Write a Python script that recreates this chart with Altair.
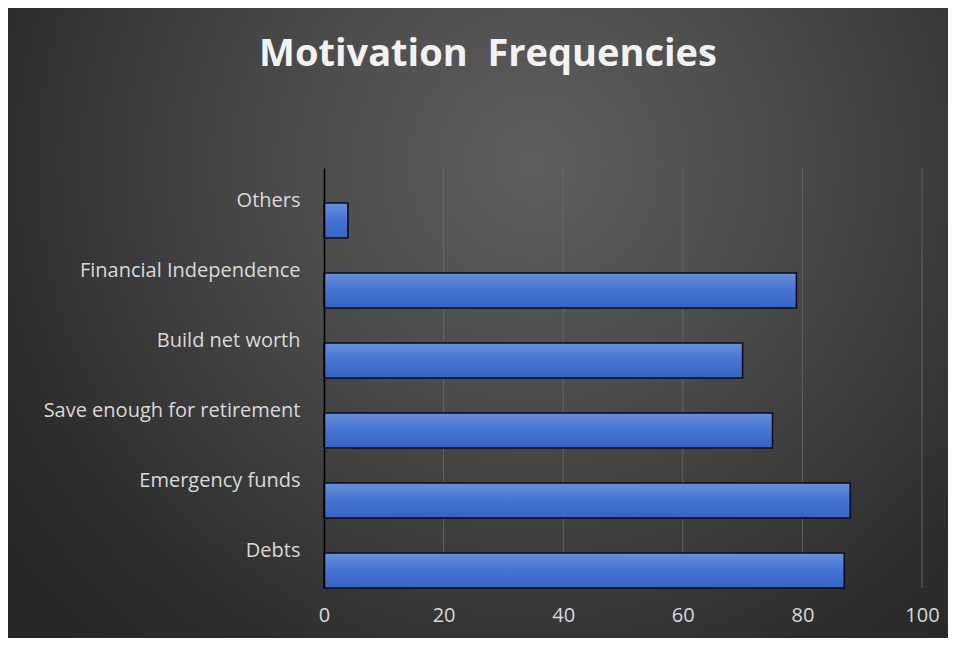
import altair as alt
import pandas as pd

categories = ["Others", "Financial Independence", "Build net worth",
              "Save enough for retirement", "Emergency funds", "Debts"]
counts = [4, 79, 70, 75, 88, 87]
grid_ticks = [20, 40, 60, 80, 100]
x_ticks = [0, 20, 40, 60, 80, 100]

bars_df = pd.DataFrame({"category": categories, "count": counts})
grid_df = pd.DataFrame({"tick": grid_ticks})

PLOT_W, PLOT_H = 598, 420
PAD = {"left": 316, "top": 160, "right": 26, "bottom": 50}

bg = alt.Chart(alt.Data(values=[{"k": 1}])).mark_rect(
    fill=alt.Gradient(
        gradient="radial",
        x1=0.56, y1=0.33, r1=0.0,
        x2=0.56, y2=0.33, r2=0.72,
        stops=[
            alt.GradientStop(offset=0.0, color="#5e5e5e"),
            alt.GradientStop(offset=0.35, color="#4c4c4c"),
            alt.GradientStop(offset=0.8, color="#2e2e2e"),
            alt.GradientStop(offset=1.0, color="#262626"),
        ],
    ),
    strokeWidth=0,
).encode(
    x=alt.value(-PAD["left"]),
    x2=alt.value(PLOT_W + PAD["right"]),
    y=alt.value(-PAD["top"]),
    y2=alt.value(PLOT_H + PAD["bottom"]),
)

x_scale = alt.Scale(domain=[0, 100], nice=False, zero=True)

grid = alt.Chart(grid_df).mark_rule(color="#6b6b6b", strokeWidth=1, opacity=0.8).encode(
    x=alt.X("tick:Q", scale=x_scale, title=None),
)

bars = alt.Chart(bars_df).mark_bar(
    height={"band": 0.5},
    yOffset=17.5,
    stroke="#0b0b22",
    strokeWidth=1.6,
    fill=alt.Gradient(
        gradient="linear",
        x1=0, x2=0, y1=0, y2=1,
        stops=[
            alt.GradientStop(offset=0.0, color="#6a8fd6"),
            alt.GradientStop(offset=0.45, color="#4876d6"),
            alt.GradientStop(offset=1.0, color="#3564c2"),
        ],
    ),
).encode(
    x=alt.X(
        "count:Q",
        scale=x_scale,
        title=None,
        axis=alt.Axis(values=x_ticks, grid=False, domain=False, ticks=False,
                      labelPadding=17, labelBaseline="top", labelFlush=False,
                      zindex=2),
    ),
    y=alt.Y(
        "category:N",
        sort=categories,
        title=None,
        scale=alt.Scale(paddingInner=0, paddingOuter=0),
        axis=alt.Axis(grid=False, ticks=False, domain=True, domainColor="#000000",
                      domainWidth=1.6, labelPadding=24, labelOffset=-2,
                      labelLimit=400, zindex=2),
    ),
)

chart = alt.layer(bg, grid, bars).properties(
    width=PLOT_W,
    height=PLOT_H,
    autosize=alt.AutoSizeParams(type="none"),
    padding=PAD,
    background="#333333",
    title=alt.TitleParams(
        "Motivation\u00a0 Frequencies",
        font="Open Sans",
        fontSize=38,
        fontWeight="bold",
        color="#f2f2f2",
        anchor="middle",
        frame="group",
        dx=-135,
        baseline="alphabetic",
        offset=-96,
        zindex=2,
    ),
).configure_view(
    stroke=None,
).configure_axis(
    labelFont="Open Sans",
    labelFontSize=20,
    labelColor="#d9d9d9",
)

chart.save("out.html", embed_options={"renderer": "svg", "actions": False})
